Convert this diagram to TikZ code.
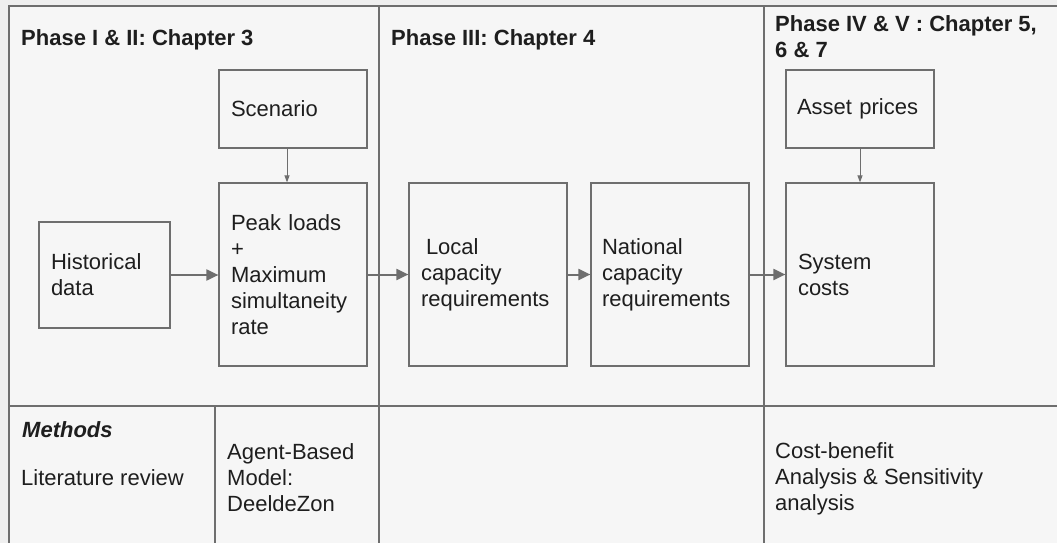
\documentclass[tikz,border=0pt]{standalone}
\usepackage{fontspec}
\setmainfont{Liberation Sans}
\usetikzlibrary{arrows.meta}
\definecolor{lnc}{HTML}{6E6E6E}
\definecolor{txc}{HTML}{1E1E1E}
\definecolor{bgc}{HTML}{F6F6F6}
\definecolor{outc}{HTML}{EFEFEF}
\begin{document}
\begin{tikzpicture}[x=1pt,y=-1pt,
  every node/.style={font=\fontsize{22}{26}\selectfont, text=txc},
  box/.style={draw=lnc, line width=1.2pt, fill=bgc, align=left, inner xsep=12pt, inner ysep=0pt},
  flow/.style={draw=lnc, line width=2pt, -{Triangle[length=12pt,width=11pt]}},
  feed/.style={draw=lnc, line width=1pt, -{Triangle[length=7pt,width=5pt]}},
  frameline/.style={draw=lnc, line width=1.5pt},
  lbl/.style={anchor=base west, inner sep=0pt, align=left},
  ttl/.style={lbl, font=\fontsize{22}{26}\selectfont\bfseries}]
\useasboundingbox (0,0) rectangle (1057,543);
\fill[outc] (0,0) rectangle (1057,543);
\fill[bgc] (9,6) rectangle (1057,543);
% frame and grid
\draw[frameline] (1057,6) -- (9,6) -- (9,543);
\draw[frameline] (379,6) -- (379,543);
\draw[frameline] (764,6) -- (764,543);
\draw[frameline] (9,406) -- (1057,406);
\draw[frameline] (215,406) -- (215,543);
% titles (base anchor = baseline of the last line)
\node[ttl] (t1) at (21,46) {Phase I \& II: Chapter 3};
\node[ttl] (t2) at (391,46) {Phase III: Chapter 4};
\node[ttl] (t3) at (775,58) {Phase IV \& V : Chapter 5,\\6 \& 7};
% boxes
\node[box, minimum width=148pt, minimum height=78pt, text width=124pt] (scen) at (293,109) {Scenario};
\node[box, minimum width=131pt, minimum height=106pt, text width=107pt] (hist) at (104.5,275) {Historical\\data};
\node[box, minimum width=148pt, minimum height=183pt, text width=124pt] (peak) at (293,274.5) {Peak loads\\+\\Maximum\\simultaneity\\rate};
\node[box, minimum width=158pt, minimum height=183pt, text width=134pt] (local) at (488,274.5) {\hspace*{5pt}Local\\capacity\\requirements};
\node[box, minimum width=158pt, minimum height=183pt, text width=136pt, inner xsep=11pt] (nat) at (670,274.5) {National\\capacity\\requirements};
\node[box, minimum width=148pt, minimum height=183pt, text width=124pt, inner xsep=11pt] (sys) at (860,274.5) {System\\costs};
\node[box, minimum width=148pt, minimum height=78pt, text width=126pt, inner xsep=11pt] (asset) at (860,109) {Asset prices};
% connectors
\draw[flow] (hist.east) -- (hist.east -| peak.west);
\draw[flow] (peak.east) -- (local.west);
\draw[flow] (local.east) -- (nat.west);
\draw[flow] (nat.east) -- (sys.west);
\draw[feed] ([xshift=-6pt]scen.south) -- ([xshift=-6pt]peak.north);
\draw[feed] (asset.south) -- (sys.north);
% methods row
\node[lbl, font=\fontsize{22}{26}\selectfont\bfseries\itshape] (meth) at (22,437) {Methods};
\node[lbl] (lit) at (21,485) {Literature review};
\node[lbl] (abm) at (227,511) {Agent-Based\\Model:\\DeeldeZon};
\node[lbl] (cba) at (775,510) {Cost-benefit\\Analysis \& Sensitivity\\analysis};
\end{tikzpicture}
\end{document}
